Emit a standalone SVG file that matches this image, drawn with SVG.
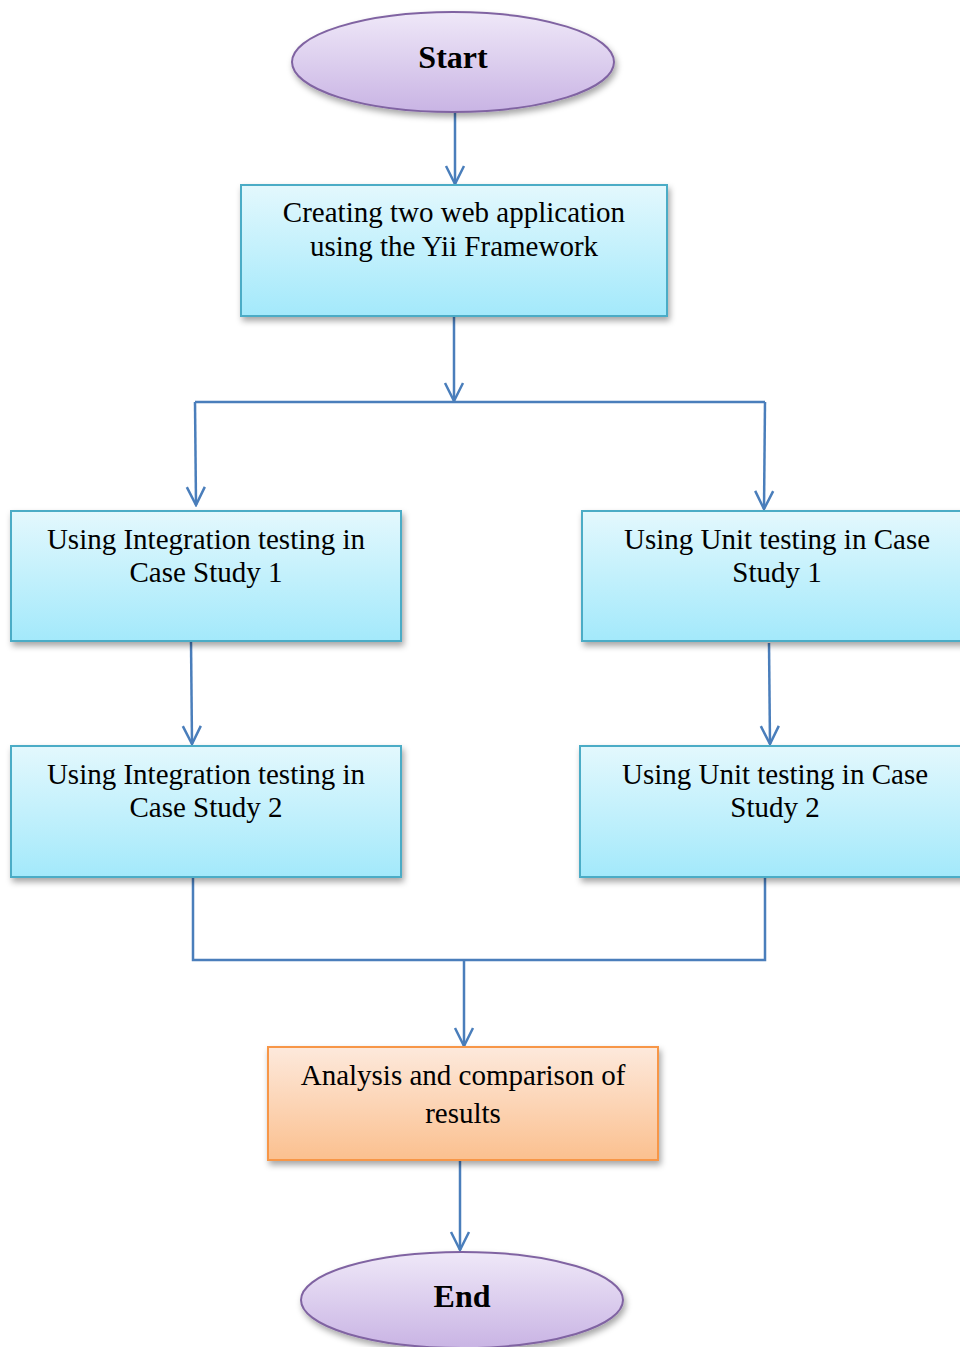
<svg xmlns="http://www.w3.org/2000/svg" width="960" height="1347" viewBox="0 0 960 1347">
<style>
.t{font-family:"Liberation Serif","Times New Roman",serif;font-size:29px;fill:#000;text-anchor:middle}
.b{font-family:"Liberation Serif","Times New Roman",serif;font-size:32px;font-weight:bold;fill:#000;text-anchor:middle}
.blue{fill:url(#gBlue);stroke:#4bacc6;stroke-width:2}
.org{fill:url(#gOrg);stroke:#f79646;stroke-width:2}
.pur{fill:url(#gPur);stroke:#8064a2;stroke-width:2}
.c{fill:none;stroke:#4a7ebb;stroke-width:2.5}
</style>
<defs>
<linearGradient id="gBlue" x1="0" y1="0" x2="0" y2="1"><stop offset="0" stop-color="#e3f8fd"/><stop offset="1" stop-color="#a3e9fb"/></linearGradient>
<linearGradient id="gOrg" x1="0" y1="0" x2="0" y2="1"><stop offset="0" stop-color="#fde9dc"/><stop offset="1" stop-color="#fbc08f"/></linearGradient>
<linearGradient id="gPur" x1="0" y1="0" x2="0" y2="1"><stop offset="0" stop-color="#efe8f8"/><stop offset="1" stop-color="#c9b4e4"/></linearGradient>
<filter id="sh" x="-10%" y="-10%" width="125%" height="130%"><feDropShadow dx="2" dy="4" stdDeviation="3" flood-color="#000" flood-opacity="0.35"/></filter>
<marker id="ar" viewBox="0 0 22 22" refX="20" refY="11" markerWidth="22" markerHeight="22" markerUnits="userSpaceOnUse" orient="auto">
<path d="M2,2 L20,11 L2,20" fill="none" stroke="#4a7ebb" stroke-width="2.5"/>
</marker>
</defs>
<g id="connectors">
<path class="c" d="M455,112 L455,184" marker-end="url(#ar)"/>
<path class="c" d="M454,316 L454,401" marker-end="url(#ar)"/>
<path class="c" d="M195,402 L765,402"/>
<path class="c" d="M195,402 L196,505" marker-end="url(#ar)"/>
<path class="c" d="M765,402 L764,509" marker-end="url(#ar)"/>
<path class="c" d="M191,641 L192,744" marker-end="url(#ar)"/>
<path class="c" d="M769,643 L770,744" marker-end="url(#ar)"/>
<path class="c" d="M193,877 L193,960 L765,960 L765,877"/>
<path class="c" d="M464,960 L464,1046" marker-end="url(#ar)"/>
<path class="c" d="M460,1160 L460,1250" marker-end="url(#ar)"/>
</g>
<g id="start">
<ellipse class="pur" cx="453" cy="62" rx="161" ry="50" filter="url(#sh)"/>
<text class="b" x="453" y="68">Start</text>
</g>
<g id="create">
<rect class="blue" x="241" y="185" width="426" height="131" filter="url(#sh)"/>
<text class="t" x="454" y="222">Creating two web application</text>
<text class="t" x="454" y="256">using the Yii Framework</text>
</g>
<g id="int1">
<rect class="blue" x="11" y="511" width="390" height="130" filter="url(#sh)"/>
<text class="t" x="206" y="549">Using Integration testing in</text>
<text class="t" x="206" y="582">Case Study 1</text>
</g>
<g id="unit1">
<rect class="blue" x="582" y="511" width="392" height="130" filter="url(#sh)"/>
<text class="t" x="777" y="549">Using Unit testing in Case</text>
<text class="t" x="777" y="582">Study 1</text>
</g>
<g id="int2">
<rect class="blue" x="11" y="746" width="390" height="131" filter="url(#sh)"/>
<text class="t" x="206" y="784">Using Integration testing in</text>
<text class="t" x="206" y="817">Case Study 2</text>
</g>
<g id="unit2">
<rect class="blue" x="580" y="746" width="392" height="131" filter="url(#sh)"/>
<text class="t" x="775" y="784">Using Unit testing in Case</text>
<text class="t" x="775" y="817">Study 2</text>
</g>
<g id="analysis">
<rect class="org" x="268" y="1047" width="390" height="113" filter="url(#sh)"/>
<text class="t" x="463" y="1085">Analysis and comparison of</text>
<text class="t" x="463" y="1123">results</text>
</g>
<g id="end">
<ellipse class="pur" cx="462" cy="1300" rx="161" ry="48" filter="url(#sh)"/>
<text class="b" x="462" y="1307">End</text>
</g>
</svg>
